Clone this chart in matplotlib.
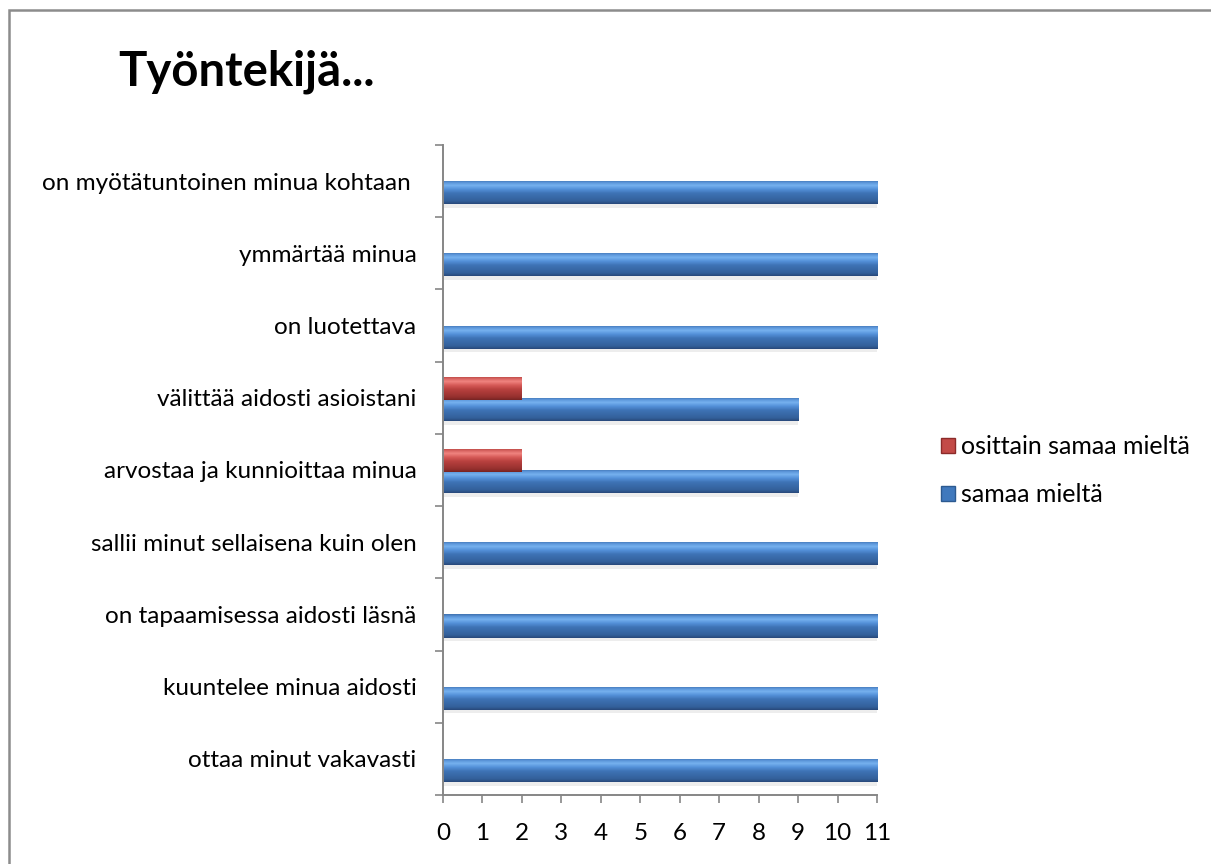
import matplotlib
matplotlib.use("Agg")
import matplotlib.pyplot as plt
from matplotlib.patches import Patch, Rectangle
from matplotlib.colors import LinearSegmentedColormap
import numpy as np

categories = [
    "ottaa minut vakavasti",
    "kuuntelee minua aidosti",
    "on tapaamisessa aidosti läsnä",
    "sallii minut sellaisena kuin olen",
    "arvostaa ja kunnioittaa minua",
    "välittää aidosti asioistani",
    "on luotettava",
    "ymmärtää minua",
    "on myötätuntoinen minua kohtaan ",
]
samaa_mielta = [11, 11, 11, 11, 9, 9, 11, 11, 11]
osittain_samaa_mielta = [0, 0, 0, 0, 2, 2, 0, 0, 0]
series_labels = ["osittain samaa mieltä", "samaa mieltä"]
x_ticks = list(range(0, 12))

plt.rcParams['font.family'] = ['Lato', 'DejaVu Sans']

W, H = 1211, 864
fig = plt.figure(figsize=(W / 100, H / 100), dpi=100)
fig.patch.set_facecolor("white")

# outer chart border
fig.patches.append(Rectangle((8.5 / W, -0.05), 1.2, 1 - 9.5 / H + 0.05,
                             transform=fig.transFigure, fill=False,
                             edgecolor="#8c8c8c", linewidth=1.8))

ax = fig.add_axes([443 / W, 1 - 795 / H, (877 - 443) / W, (795 - 145) / H])

y = np.arange(len(categories))
h = 0.32
off_blue = -0.16
off_red = 0.13

# gradients from bottom (0) to top (1)
blue_cmap = LinearSegmentedColormap.from_list("b", [
    (0.0, "#28497a"), (0.12, "#33609a"), (0.45, "#3e73b5"), (0.62, "#5390d8"),
    (0.78, "#76b2ef"), (0.9, "#5c96da"), (1.0, "#3f72b0")])
red_cmap = LinearSegmentedColormap.from_list("r", [
    (0.0, "#772423"), (0.12, "#95302e"), (0.45, "#b9413f"), (0.62, "#d65a57"),
    (0.78, "#f08480"), (0.9, "#d76360"), (1.0, "#b4403e")])
grad = np.linspace(0, 1, 64).reshape(-1, 1)

def grad_bars(yc, vals, cmap):
    bars = ax.barh(yc, vals, height=h, color="none", edgecolor="none", zorder=2)
    for b in bars:
        if b.get_width() <= 0:
            continue
        x0, y0 = b.get_x(), b.get_y()
        x1, y1 = x0 + b.get_width(), y0 + b.get_height()
        # soft shadow below the bar
        ax.fill_between([x0, x1], y0 - 0.05, y0, color="#d9d9d9", alpha=0.45,
                        linewidth=0, zorder=1)
        im = ax.imshow(grad, extent=(x0, x1, y0, y1), origin="lower",
                       aspect="auto", cmap=cmap, zorder=3, interpolation="bilinear")
        im.set_clip_path(b)

grad_bars(y + off_blue, samaa_mielta, blue_cmap)
grad_bars(y + off_red, osittain_samaa_mielta, red_cmap)

ax.set_aspect("auto")
ax.set_xlim(0, 11)
ax.set_ylim(-0.5, len(categories) - 0.5)
ax.set_xticks(x_ticks)
ax.set_xticklabels([str(t) for t in x_ticks], fontsize=17.5)
ax.set_yticks(y)
ax.set_yticklabels(categories, fontsize=17.5)
ax.set_yticks(np.arange(-0.5, len(categories)), minor=True)
ax.tick_params(axis="y", which="major", length=0, pad=19)
ax.tick_params(axis="y", which="minor", length=6, width=1.2, color="#868686", direction="out")
ax.tick_params(axis="x", which="major", length=6, width=1.2, color="#868686", direction="out", pad=14)

for s in ["top", "right"]:
    ax.spines[s].set_visible(False)
for s in ["left", "bottom"]:
    ax.spines[s].set_color("#868686")
    ax.spines[s].set_linewidth(1.4)
    ax.spines[s].set_zorder(6)

fig.text(118 / W, 1 - 72 / H, "Työntekijä...", fontsize=34, fontweight="bold",
         va="center", ha="left")

handles = [Patch(facecolor="#c34a47", edgecolor="#8c2b29"),
           Patch(facecolor="#4079bd", edgecolor="#2c5a90")]
fig.legend(handles, series_labels, loc="center left",
           bbox_to_anchor=(919 / W, 1 - 471 / H), frameon=False,
           fontsize=18, handlelength=0.55, handleheight=0.55,
           handletextpad=0.25, labelspacing=1.0)

fig.savefig("out.png", dpi=100)
